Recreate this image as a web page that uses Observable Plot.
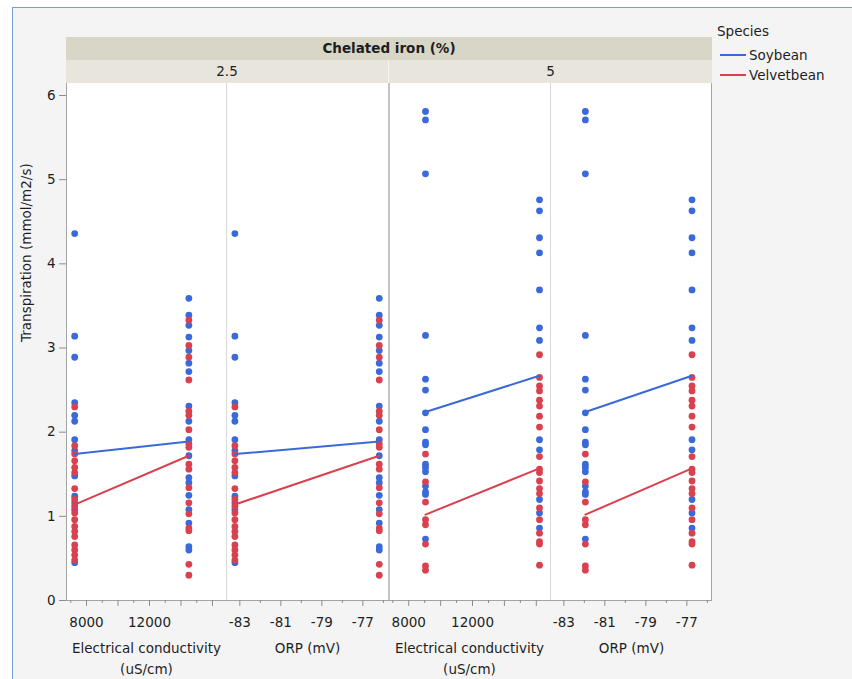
<!DOCTYPE html>
<html>
<head>
<meta charset="utf-8">
<script src="https://cdn.jsdelivr.net/npm/d3@7"></script>
<script src="https://cdn.jsdelivr.net/npm/@observablehq/plot@0.6"></script>
<style>
html,body{margin:0;padding:0;background:#fff;}
#root{position:relative;width:852px;height:679px;overflow:hidden;font-family:"DejaVu Sans",sans-serif;font-size:13.5px;color:#1e1e1e;}
.abs{position:absolute;}
</style>
</head>
<body>
<div id="root"></div>
<script>
// ---------- data ----------
const species = ["Soybean", "Velvetbean"];
const speciesColors = ["#3a6ad8", "#d9414f"];
const ironLevels = ["2.5", "5"];
const ironTitle = "Chelated iron (%)";
const legendTitle = "Species";
const yLabel = "Transpiration (mmol/m2/s)";
const ecLabel = "Electrical conductivity\n(uS/cm)";
const orpLabel = "ORP (mV)";

// x settings of the two sampling groups per iron level
const ecSettings25 = [7250, 14500];
const orpSettings25 = [-83.24, -76.2];
const ecSettings5 = [9050, 16200];
const orpSettings5 = [-81.95, -76.75];

// transpiration values (mmol/m2/s)
const soybean25Low = [4.36, 3.14, 2.89, 2.35, 2.20, 2.13, 1.91, 1.78, 1.48, 1.24, 1.16, 1.08, 0.45];
const velvet25Low = [2.30, 1.84, 1.74, 1.66, 1.58, 1.52, 1.33, 1.20, 1.12, 1.04, 0.96, 0.88, 0.82, 0.76, 0.66, 0.60, 0.54, 0.48];
const soybean25High = [3.59, 3.39, 3.27, 3.13, 2.97, 2.82, 2.72, 2.31, 2.13, 1.91, 1.72, 1.46, 1.40, 1.25, 1.08, 0.92, 0.64, 0.60];
const velvet25High = [3.33, 3.03, 2.89, 2.62, 2.25, 2.20, 2.03, 1.86, 1.82, 1.62, 1.56, 1.34, 1.16, 1.03, 0.86, 0.83, 0.43, 0.30];
const soybean5Low = [5.81, 5.71, 5.07, 3.15, 2.63, 2.50, 2.23, 2.03, 1.88, 1.85, 1.62, 1.58, 1.53, 1.36, 1.29, 1.26, 0.73];
const velvet5Low = [1.74, 1.41, 1.17, 0.96, 0.90, 0.67, 0.41, 0.36];
const soybean5High = [4.76, 4.63, 4.31, 4.13, 3.69, 3.24, 3.09, 1.91, 1.79, 1.20, 1.04, 0.86];
const velvet5High = [2.92, 2.65, 2.55, 2.49, 2.38, 2.31, 2.19, 2.06, 1.71, 1.56, 1.52, 1.42, 1.33, 1.27, 1.10, 0.96, 0.80, 0.70, 0.67, 0.42];

// mean lines
const soybeanMean25 = [1.74, 1.89];
const velvetMean25 = [1.14, 1.72];
const soybeanMean5 = [2.24, 2.67];
const velvetMean5 = [1.02, 1.57];

// ticks
const yTicks = [0, 1, 2, 3, 4, 5, 6];
const ecTicksMajor = [8000, 10000, 12000, 14000, 16000];
const ecTicksMinor = [7000, 9000, 11000, 13000, 15000];
const ecTickLabels = [8000, 12000];
const orpTicksMajor = [-83, -81, -79, -77];
const orpTicksMinor = [-82, -80, -78, -76];
const orpTickLabels = [-83, -81, -79, -77];
const ecDomain = [6730, 16890];
const orpDomain = [-83.65, -75.75];
const yDomain = [0, 6];

// ---------- build tables ----------
const groups = [
  {iron: "2.5", ec: ecSettings25, orp: orpSettings25, soy: [soybean25Low, soybean25High], vel: [velvet25Low, velvet25High], mSoy: soybeanMean25, mVel: velvetMean25},
  {iron: "5", ec: ecSettings5, orp: orpSettings5, soy: [soybean5Low, soybean5High], vel: [velvet5Low, velvet5High], mSoy: soybeanMean5, mVel: velvetMean5}
];
const points = [];
const means = [];
for (const g of groups) {
  for (let k = 0; k < 2; k++) {
    g.soy[k].forEach(v => points.push({iron: g.iron, species: species[0], ec: g.ec[k], orp: g.orp[k], y: v}));
    g.vel[k].forEach(v => points.push({iron: g.iron, species: species[1], ec: g.ec[k], orp: g.orp[k], y: v}));
    means.push({iron: g.iron, species: species[0], ec: g.ec[k], orp: g.orp[k], y: g.mSoy[k]});
    means.push({iron: g.iron, species: species[1], ec: g.ec[k], orp: g.orp[k], y: g.mVel[k]});
  }
}

// ---------- layout ----------
const root = document.getElementById("root");
function box(css, text) {
  const d = document.createElement("div");
  d.className = "abs";
  Object.assign(d.style, css);
  if (text != null) d.textContent = text;
  root.appendChild(d);
  return d;
}
// window frame
box({left: "12px", top: "7px", width: "840px", height: "672px", background: "#f4f4f4", borderLeft: "1px solid #7d9cd6", borderTop: "1px solid #7d9cd6"});
// header bands
box({left: "66px", top: "37px", width: "646px", height: "23px", background: "#d8d6c7", fontWeight: "bold", textAlign: "center", lineHeight: "23px"}, ironTitle);
ironLevels.forEach((lv, i) => box({left: (i ? 388 : 66) + "px", top: "60px", width: (i ? 324 : 322) + "px", height: "23px", background: "#e8e6dc", textAlign: "center", lineHeight: "23px", boxSizing: "border-box", borderLeft: i ? "1px solid #f6f5f0" : "none"}, lv));
// plot background
box({left: "66px", top: "83px", width: "646px", height: "517px", background: "#fff"});
// separators & borders
box({left: "226px", top: "83px", width: "1px", height: "517px", background: "#d9d9d9"});
box({left: "550px", top: "83px", width: "1px", height: "517px", background: "#d9d9d9"});
box({left: "388px", top: "83px", width: "2px", height: "517px", background: "#c4c4c4"});
box({left: "66px", top: "83px", width: "1px", height: "518px", background: "#a4a4a4"});
box({left: "711px", top: "83px", width: "1px", height: "518px", background: "#a4a4a4"});
box({left: "66px", top: "600px", width: "646px", height: "1px", background: "#a4a4a4"});

// legend
box({left: "717px", top: "23px", lineHeight: "16px"}, legendTitle);
species.forEach((s, i) => {
  const row = box({left: "719px", top: (47 + i * 19.5) + "px", height: "16px", lineHeight: "16px", display: "flex", alignItems: "center", whiteSpace: "nowrap"});
  row.innerHTML = `<svg width="27" height="16" style="display:block"><line x1="1" x2="27" y1="8" y2="8" stroke="${speciesColors[i]}" stroke-width="2"/></svg><span style="margin-left:3px">${s}</span>`;
});

// ---------- panels ----------
const panels = [
  {iron: "2.5", variable: "ec", left: 0, marginLeft: 66, width: 226, yAxis: true},
  {iron: "2.5", variable: "orp", left: 226, marginLeft: 0, width: 162, yAxis: false},
  {iron: "5", variable: "ec", left: 388, marginLeft: 0, width: 162, yAxis: false},
  {iron: "5", variable: "orp", left: 550, marginLeft: 0, width: 162, yAxis: false}
];

for (const p of panels) {
  const isEC = p.variable === "ec";
  const labels = isEC ? ecTickLabels : orpTickLabels;
  const marks = [
    Plot.dot(points.filter(d => d.iron === p.iron), {x: p.variable, y: "y", fill: "species", r: 3.4}),
    Plot.line(means.filter(d => d.iron === p.iron), {x: p.variable, y: "y", stroke: "species", z: "species", strokeWidth: 2}),
    Plot.axisX({ticks: isEC ? ecTicksMinor : orpTicksMinor, tickSize: 3, tickFormat: () => "", stroke: "#8c8c8c", label: null}),
    Plot.axisX({ticks: isEC ? ecTicksMajor : orpTicksMajor, tickSize: 6, tickPadding: 11, tickFormat: d => labels.includes(d) ? String(d) : "", stroke: "#8c8c8c", fill: "#1e1e1e", fontSize: 13.5, label: null}),
    Plot.text([isEC ? ecLabel : orpLabel], {frameAnchor: "bottom", lineAnchor: "top", dy: 37.4, lineHeight: 1.55, fill: "#1e1e1e", fontSize: 13.5})
  ];
  if (p.yAxis) {
    marks.push(
      Plot.axisY({ticks: yTicks, tickSize: 7, tickPadding: 4, tickFormat: d => String(d), stroke: "#8c8c8c", fill: "#1e1e1e", fontSize: 13.5, label: null}),
      Plot.text([yLabel], {frameAnchor: "left", rotate: -90, dx: -40, fill: "#1e1e1e", fontSize: 13.5})
    );
  }
  const chart = Plot.plot({
    width: p.width,
    height: 597,
    marginTop: 0,
    marginBottom: 80,
    marginLeft: p.marginLeft,
    marginRight: 0,
    x: {domain: isEC ? ecDomain : orpDomain},
    y: {domain: yDomain, range: [517, 12], axis: p.yAxis ? undefined : null},
    color: {domain: species, range: speciesColors},
    style: {background: "transparent", fontFamily: "DejaVu Sans", fontSize: "13.5px", overflow: "visible"},
    marks
  });
  chart.style.position = "absolute";
  chart.style.left = p.left + "px";
  chart.style.top = "83px";
  root.appendChild(chart);
}
</script>
</body>
</html>
